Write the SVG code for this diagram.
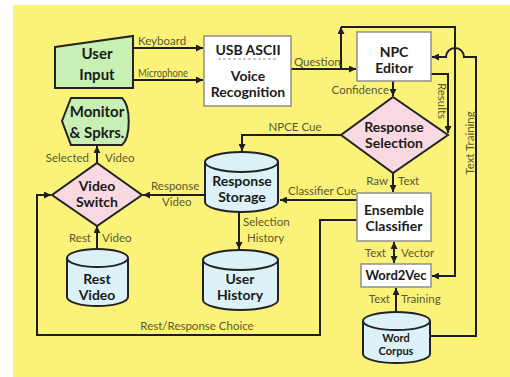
<svg xmlns="http://www.w3.org/2000/svg" width="510" height="377" viewBox="0 0 510 377">
<defs>
<marker id="ah" viewBox="0 0 10 10" refX="10" refY="5" markerWidth="7" markerHeight="7" markerUnits="userSpaceOnUse" orient="auto-start-reverse">
<path d="M0,0 L10,5 L0,10 Z" fill="#1e1e1e"/>
</marker>
<style>
.bg{fill:#fbf379}
.wbox{fill:#ffffff;stroke:#8f8f8f;stroke-width:1.5}
.green{fill:#c8f0b4;stroke:#222;stroke-width:2}
.pink{fill:#f8d9e1;stroke:#222;stroke-width:2}
.cyl{fill:#dcf2f8;stroke:#222;stroke-width:2}
.cylf{fill:none;stroke:#222;stroke-width:2}
.ln{fill:none;stroke:#1e1e1e;stroke-width:2}
.t{font-family:Lato,"Liberation Sans",sans-serif;font-weight:bold;font-size:14px;fill:#1a1a1a;text-anchor:middle}
.lb{font-family:Lato,"Liberation Sans",sans-serif;font-size:11.5px;fill:#5a582e}
</style>
</defs>
<rect x="0" y="0" width="510" height="377" fill="#ffffff"/>
<rect class="bg" x="13" y="5" width="497" height="372"/>

<g id="connectors">
<path class="ln" d="M133,48 H203" marker-end="url(#ah)"/>
<path class="ln" d="M133,80 H203" marker-end="url(#ah)"/>
<path class="ln" d="M291,69 H356" marker-end="url(#ah)"/>
<path class="ln" d="M341,69 V27" marker-end="url(#ah)"/>
<path class="ln" d="M341,27 H455 V276 H432" marker-end="url(#ah)"/>
<path class="ln" d="M430,336 H476 V57 H464 A9,9 0 0 0 446,57 H432" marker-end="url(#ah)"/>
<path class="ln" d="M393,81 V96" marker-end="url(#ah)"/>
<path class="ln" d="M431,74 H448 V133" marker-end="url(#ah)"/>
<path class="ln" d="M341,135 H242 V151" marker-end="url(#ah)"/>
<path class="ln" d="M393,173 V192" marker-end="url(#ah)"/>
<path class="ln" d="M357,200 H280" marker-end="url(#ah)"/>
<path class="ln" d="M357,220 H320 V335 H37 V195 H51" marker-end="url(#ah)"/>
<path class="ln" d="M394,242 V263" marker-start="url(#ah)" marker-end="url(#ah)"/>
<path class="ln" d="M396,311 V288" marker-end="url(#ah)"/>
<path class="ln" d="M205,195 H143" marker-end="url(#ah)"/>
<path class="ln" d="M239,212 V249" marker-end="url(#ah)"/>
<path class="ln" d="M97,163 V146" marker-end="url(#ah)"/>
<path class="ln" d="M97,249 V226" marker-end="url(#ah)"/>

<text class="lb" x="138" y="45">Keyboard</text>
<text class="lb" x="138" y="77" textLength="50" lengthAdjust="spacingAndGlyphs">Microphone</text>
<text class="lb" x="294" y="66">Question</text>
<text class="lb" x="389" y="94" text-anchor="end">Confidence</text>
<text class="lb" transform="translate(442,101) rotate(90)" y="4" text-anchor="middle">Results</text>
<text class="lb" transform="translate(470,143) rotate(-90)" y="4" text-anchor="middle">Text Training</text>
<text class="lb" x="295" y="131" text-anchor="middle">NPCE Cue</text>
<text class="lb" x="388" y="185" text-anchor="end">Raw</text>
<text class="lb" x="398" y="185">Text</text>
<text class="lb" x="288" y="195">Classifier Cue</text>
<text class="lb" x="386" y="257" text-anchor="end">Text</text>
<text class="lb" x="401" y="257">Vector</text>
<text class="lb" x="390" y="303" text-anchor="end">Text</text>
<text class="lb" x="401" y="303">Training</text>
<text class="lb" x="151" y="190">Response</text>
<text class="lb" x="162" y="206">Video</text>
<text class="lb" x="243" y="226">Selection</text>
<text class="lb" x="247" y="242">History</text>
<text class="lb" x="89" y="162" text-anchor="end">Selected</text>
<text class="lb" x="105" y="162">Video</text>
<text class="lb" x="91" y="242" text-anchor="end">Rest</text>
<text class="lb" x="102" y="242">Video</text>
<text class="lb" x="197" y="330" text-anchor="middle">Rest/Response Choice</text>
</g>

<g id="user-input">
<path class="green" d="M55,47 L133,36 L133,88 L55,88 Z"/>
<text class="t" x="97" y="59" style="font-size:15px">User</text>
<text class="t" x="97" y="80" style="font-size:15px">Input</text>
</g>

<g id="voice-recognition">
<rect class="wbox" x="204" y="36" width="87" height="70"/>
<text class="t" x="248" y="55">USB ASCII</text>
<line x1="218" y1="59" x2="278" y2="59" stroke="#8f8f8f" stroke-width="1.2" stroke-dasharray="3,2"/>
<text class="t" x="248" y="81">Voice</text>
<text class="t" x="248" y="97">Recognition</text>
</g>

<g id="npc-editor">
<rect class="wbox" x="357" y="32" width="74" height="49"/>
<text class="t" x="394" y="57">NPC</text>
<text class="t" x="394" y="73">Editor</text>
</g>

<g id="response-selection">
<path class="pink" d="M393,97 L448,135 L393,173 L341,135 Z"/>
<text class="t" x="394" y="132">Response</text>
<text class="t" x="394" y="148">Selection</text>
</g>

<g id="ensemble-classifier">
<rect class="wbox" x="357" y="193" width="74" height="48"/>
<text class="t" x="394" y="215">Ensemble</text>
<text class="t" x="394" y="231">Classifier</text>
</g>

<g id="word2vec">
<rect class="wbox" x="361" y="264" width="70" height="23"/>
<text class="t" x="396" y="280" style="font-size:13px">Word2Vec</text>
</g>

<g id="word-corpus">
<path class="cyl" d="M363,321 A33.5,9 0 0 1 430,321 V354 A33.5,9 0 0 1 363,354 Z"/>
<path class="cylf" d="M363,321 A33.5,9 0 0 0 430,321"/>
<text class="t" x="396" y="342" style="font-size:11px">Word</text>
<text class="t" x="396" y="355" style="font-size:11px">Corpus</text>
</g>

<g id="response-storage">
<path class="cyl" d="M205,162 A36.5,10 0 0 1 278,162 V202 A36.5,10 0 0 1 205,202 Z"/>
<path class="cylf" d="M205,162 A36.5,10 0 0 0 278,162"/>
<text class="t" x="242" y="186">Response</text>
<text class="t" x="242" y="202">Storage</text>
</g>

<g id="user-history">
<path class="cyl" d="M203,260 A37.5,10 0 0 1 278,260 V300 A37.5,10 0 0 1 203,300 Z"/>
<path class="cylf" d="M203,260 A37.5,10 0 0 0 278,260"/>
<text class="t" x="240" y="284">User</text>
<text class="t" x="240" y="300">History</text>
</g>

<g id="rest-video">
<path class="cyl" d="M67,258 A30.5,9 0 0 1 128,258 V297 A30.5,9 0 0 1 67,297 Z"/>
<path class="cylf" d="M67,258 A30.5,9 0 0 0 128,258"/>
<text class="t" x="97" y="284">Rest</text>
<text class="t" x="97" y="300">Video</text>
</g>

<g id="video-switch">
<path class="pink" d="M97,163 L142,195 L97,226 L52,195 Z"/>
<text class="t" x="97" y="191">Video</text>
<text class="t" x="97" y="207">Switch</text>
</g>

<g id="monitor">
<path class="green" d="M62,121 L71,98 L122,98 C131,106 131,137 122,145 L71,145 Z"/>
<text class="t" x="97" y="117" style="font-size:15px">Monitor</text>
<text class="t" x="97" y="138" style="font-size:15px">&amp; Spkrs.</text>
</g>
</svg>
